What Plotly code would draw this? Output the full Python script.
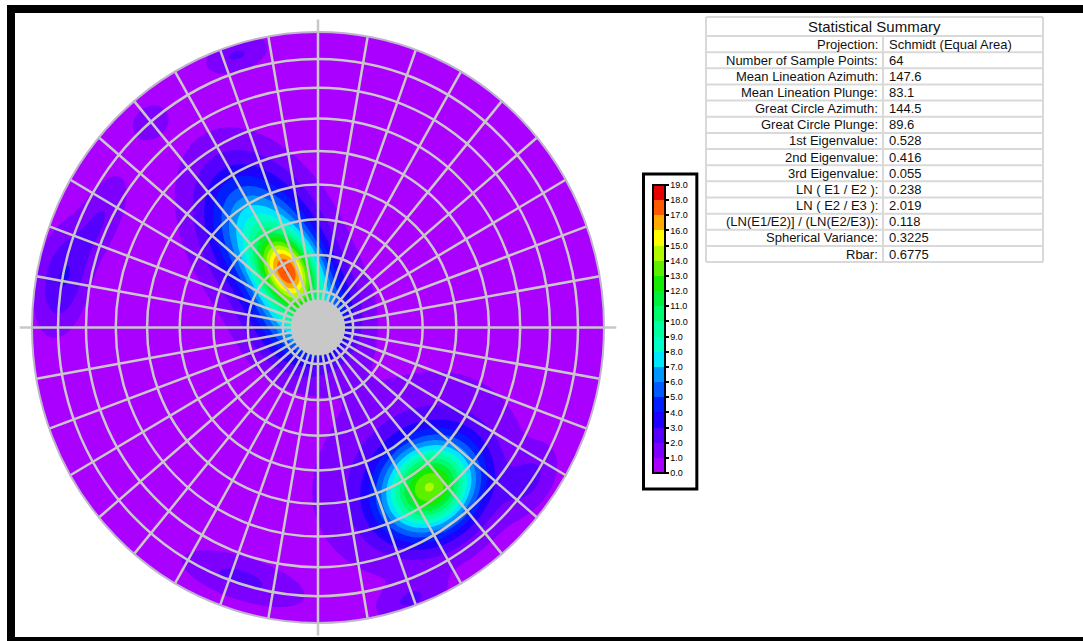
import numpy as np
import plotly.graph_objects as go

# ---------------------------------------------------------------- data
# Pole concentrations on the lower hemisphere: trend / plunge of each
# concentration centre (degrees) and its peak density (% of total per 1% area)
cluster_trend = [331.0, 328.0, 300.0, 144.2, 144.9, 342.9, 319.8, 295.5, 280.0, 197.8, 160.7, 124.8]
cluster_plunge = [72.0, 62.0, 86.0, 33.5, 40.8, 4.0, 9.9, 16.6, 10.0, 11.9, 2.6, 10.7]
cluster_peak = [9.3, 8.5, 6.0, 11.8, 2.2, 1.8, 1.5, 1.7, 2.6, 1.9, 1.6, 1.6]
# kernel widths (fraction of net radius) across and along the plunge circles
spread_radial = [0.085, 0.19, 0.11, 0.10, 0.20, 0.04, 0.04, 0.05, 0.06, 0.05, 0.04, 0.05]
spread_tangential = [0.065, 0.12, 0.11, 0.12, 0.25, 0.08, 0.05, 0.12, 0.12, 0.15, 0.08, 0.08]
background_density = 0.3

contour_levels = list(range(0, 20))          # 0.0 ... 19.0
level_colors = [
    "#AA00FF", "#7D00FF", "#5500FF", "#1E00FF", "#001EFF", "#005AFF",
    "#0096FF", "#00E6FF", "#00FFC8", "#00FFA0", "#00FA6E", "#00F03C",
    "#14EB00", "#5AF000", "#AFFA00", "#FFFF00", "#FFAA00", "#FF5A00",
    "#E60000",
]

# net graticule: small circles of equal plunge, great circles every 10 deg
net_plunges = [10, 20, 30, 40, 50, 60, 70, 80]
net_azimuths = list(range(0, 360, 10))

stat_title = "Statistical Summary"
stat_labels = [
    "Projection:", "Number of Sample Points:", "Mean Lineation Azimuth:",
    "Mean Lineation Plunge:", "Great Circle Azimuth:", "Great Circle Plunge:",
    "1st Eigenvalue:", "2nd Eigenvalue:", "3rd Eigenvalue:",
    "LN ( E1 / E2 ):", "LN ( E2 / E3 ):", "(LN(E1/E2)] / (LN(E2/E3)):",
    "Spherical Variance:", "Rbar:",
]
stat_values = [
    "Schmidt (Equal Area)", "64", "147.6", "83.1", "144.5", "89.6",
    "0.528", "0.416", "0.055", "0.238", "2.019", "0.118", "0.3225", "0.6775",
]

# ---------------------------------------------------------------- helpers
W, H = 1083, 641
FONT = "Liberation Sans, Arial, sans-serif"


def schmidt_radius(plunge_deg):
    """Equal-area (Schmidt) radius for a line of given plunge, unit net."""
    return np.sqrt(2.0) * np.sin(np.radians(90.0 - np.asarray(plunge_deg)) / 2.0)


def project(trend_deg, plunge_deg):
    r = schmidt_radius(plunge_deg)
    t = np.radians(trend_deg)
    return r * np.sin(t), r * np.cos(t)


# density field on a regular grid of the projection plane
grid = np.linspace(-1.03, 1.03, 207)
GX, GY = np.meshgrid(grid, grid)
density = np.full(GX.shape, background_density)
for t, p, pk, sr, st in zip(cluster_trend, cluster_plunge, cluster_peak,
                            spread_radial, spread_tangential):
    x0, y0 = project(t, p)
    r0 = np.hypot(x0, y0)
    ux, uy = (x0 / r0, y0 / r0) if r0 > 1e-9 else (0.0, 1.0)
    dx, dy = GX - x0, GY - y0
    a = dx * ux + dy * uy           # across plunge circles
    b = -dx * uy + dy * ux          # along plunge circles
    density += pk * np.exp(-(a ** 2 / (2 * sr ** 2) + b ** 2 / (2 * st ** 2)))
density = np.round(density, 3)

# stepped colour scale: one flat colour per contour band
zmax = contour_levels[-1]
colorscale = [[0.0, level_colors[0]]]
for k, c in enumerate(level_colors):
    lo = max((k - 0.02) / zmax, 0.0)
    hi = min((k + 0.95) / zmax, 1.0)
    colorscale.append([lo, c])
    colorscale.append([hi, c])
colorscale.append([1.0, level_colors[-1]])
colorscale.sort(key=lambda s: s[0])

# ---------------------------------------------------------------- layout geometry (pixels)
CX, CY = 318.0, 327.5           # net centre
RX, RY = 286.0, 295.5           # net radius on screen
XR, YR = 1.10, 1.05             # axis half ranges

x_dom = [(CX - XR * RX) / W, (CX + XR * RX) / W]
y_dom = [(H - (CY + YR * RY)) / H, (H - (CY - YR * RY)) / H]

fig = go.Figure()
fig.add_trace(go.Contour(
    x=grid, y=grid, z=density,
    zmin=0, zmax=zmax,
    contours=dict(start=contour_levels[0], end=contour_levels[-1], size=1,
                  coloring="fill", showlines=False),
    line=dict(width=0),
    colorscale=colorscale,
    hoverinfo="skip",
    colorbar=dict(
        tickmode="array",
        tickvals=contour_levels,
        ticktext=[f"{v:.1f}" for v in contour_levels],
        ticks="outside", ticklen=3, tickwidth=1.5, tickcolor="black",
        tickfont=dict(family=FONT, size=9, color="black"),
        thickness=12, thicknessmode="pixels",
        len=310, lenmode="pixels",
        x=646 / W, xanchor="left",
        y=(H - 484) / H, yanchor="bottom",
        ypad=11, xpad=7,
        outlinewidth=2, outlinecolor="black",
        bordercolor="black", borderwidth=3, bgcolor="white",
    ),
))

shapes = []
# white mask outside the net circle
theta = np.linspace(0, 2 * np.pi, 361)
circ = " ".join(
    ("M" if i == 0 else "L") + f"{np.cos(a):.5f},{np.sin(a):.5f}" for i, a in enumerate(theta)
)
mask_path = (f"M{-XR - 0.1},{-YR - 0.1} L{XR + 0.1},{-YR - 0.1} L{XR + 0.1},{YR + 0.1} "
             f"L{-XR - 0.1},{YR + 0.1} Z " + circ + " Z")
shapes.append(dict(type="path", xref="x", yref="y", path=mask_path, fillcolor="white",
                   fillrule="evenodd", line=dict(width=0), layer="above"))

GRID_COLOR = "#C8C8C8"
for p in net_plunges:
    r = float(schmidt_radius(p))
    shapes.append(dict(type="circle", xref="x", yref="y", x0=-r, y0=-r, x1=r, y1=r,
                       line=dict(color=GRID_COLOR, width=2.5), layer="above"))
for az in net_azimuths:
    ex, ey = project(az, 0)
    shapes.append(dict(type="line", xref="x", yref="y", x0=0, y0=0, x1=float(ex), y1=float(ey),
                       line=dict(color=GRID_COLOR, width=2.5), layer="above"))
# crowded centre of the graticule
rc = 0.095
shapes.append(dict(type="circle", xref="x", yref="y", x0=-rc, y0=-rc, x1=rc, y1=rc,
                   fillcolor=GRID_COLOR, line=dict(width=0), layer="above"))
# primitive circle
shapes.append(dict(type="circle", xref="x", yref="y", x0=-1, y0=-1, x1=1, y1=1,
                   line=dict(color="#BEB4CC", width=2), layer="above"))
# N / E / S / W ticks
for az in (0, 90, 180, 270):
    sx, sy = project(az, 0)
    shapes.append(dict(type="line", xref="x", yref="y",
                       x0=float(sx), y0=float(sy), x1=float(sx) * 1.043, y1=float(sy) * 1.042,
                       line=dict(color=GRID_COLOR, width=2.5), layer="above"))

# statistical summary table
T_LEFT, T_SEP, T_RIGHT = 706, 883, 1043
T_TOP, TITLE_H, ROW_H = 17, 19, 16.15
TBL_COLOR = "#D9D9D9"
n_rows = len(stat_labels)
t_bottom = T_TOP + TITLE_H + ROW_H * n_rows


def px(x):
    return x / W


def py(y):
    return 1 - y / H


row_edges = [T_TOP, T_TOP + TITLE_H] + [T_TOP + TITLE_H + ROW_H * (i + 1) for i in range(n_rows)]
for y in row_edges:
    shapes.append(dict(type="line", xref="paper", yref="paper", x0=px(T_LEFT), x1=px(T_RIGHT),
                       y0=py(y), y1=py(y), line=dict(color=TBL_COLOR, width=2)))
for x, y0 in ((T_LEFT, T_TOP), (T_RIGHT, T_TOP), (T_SEP, T_TOP + TITLE_H)):
    shapes.append(dict(type="line", xref="paper", yref="paper", x0=px(x), x1=px(x),
                       y0=py(y0), y1=py(t_bottom), line=dict(color=TBL_COLOR, width=2)))

annotations = [dict(text=stat_title, xref="paper", yref="paper", x=px((T_LEFT + T_RIGHT) / 2),
                    y=py(T_TOP + TITLE_H / 2 + 0.5), xanchor="center", yanchor="middle",
                    showarrow=False, font=dict(family=FONT, size=15, color="#111111"))]
for i, (lab, val) in enumerate(zip(stat_labels, stat_values)):
    yc = py(T_TOP + TITLE_H + ROW_H * (i + 0.5))
    annotations.append(dict(text=lab, xref="paper", yref="paper", x=px(T_SEP - 3), y=yc,
                            xanchor="right", yanchor="middle", showarrow=False,
                            font=dict(family=FONT, size=13, color="#111111")))
    annotations.append(dict(text=val, xref="paper", yref="paper", x=px(T_SEP + 4), y=yc,
                            xanchor="left", yanchor="middle", showarrow=False,
                            font=dict(family=FONT, size=13, color="#111111")))

# black frame
for x0, x1, y0, y1 in ((7, W, 5, 13), (7, 15, 5, H), (7, W, 637, H)):
    shapes.append(dict(type="rect", xref="paper", yref="paper", x0=px(x0), x1=px(x1),
                       y0=py(y1), y1=py(y0), fillcolor="black", line=dict(width=0)))

fig.update_layout(
    width=W, height=H,
    margin=dict(l=0, r=0, t=0, b=0),
    paper_bgcolor="white", plot_bgcolor="white",
    xaxis=dict(domain=x_dom, range=[-XR, XR], visible=False, fixedrange=True),
    yaxis=dict(domain=y_dom, range=[-YR, YR], visible=False, fixedrange=True),
    shapes=shapes,
    annotations=annotations,
    showlegend=False,
)

fig.write_html("out.html")
